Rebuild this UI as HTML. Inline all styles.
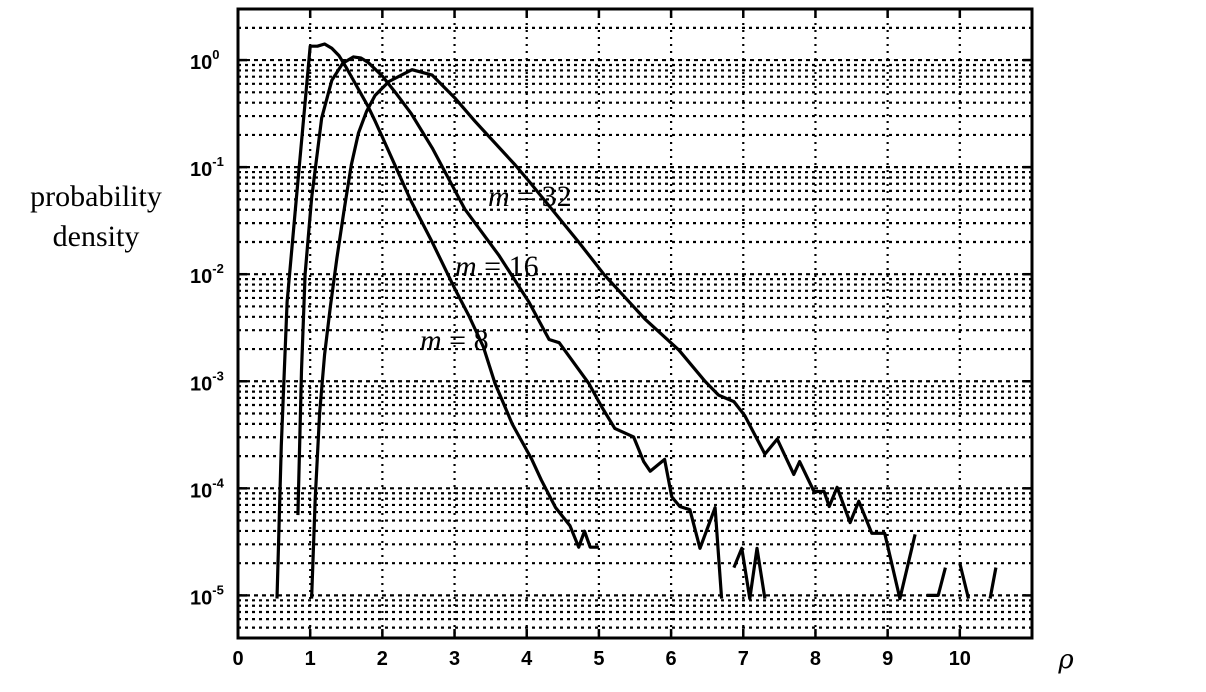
<!DOCTYPE html>
<html><head><meta charset="utf-8"><style>
html,body{margin:0;padding:0;background:#fff;}
svg{display:block;}
.tick{font-family:"Liberation Sans",sans-serif;font-weight:bold;font-size:20px;fill:#000;}
.lab{font-family:"Liberation Serif",serif;font-size:30px;fill:#000;}
</style></head><body>
<svg id="chart" width="1206" height="692" viewBox="0 0 1206 692" xmlns="http://www.w3.org/2000/svg">
<g id="grid"></g>
<g id="curves"></g>
<g id="axes"></g>
<text class="lab" x="96" y="206" text-anchor="middle">probability</text>
<text class="lab" x="96" y="246" text-anchor="middle">density</text>
<text x="1066" y="668" text-anchor="middle" style="font-family:'DejaVu Serif',serif;font-style:italic;font-size:26px">ρ</text>
<g style="font-family:'Liberation Serif',serif;font-style:italic;font-size:30px">
<text x="488" y="206">m <tspan style="font-style:normal">= 32</tspan></text>
<text x="455" y="276">m <tspan style="font-style:normal">= 16</tspan></text>
<text x="420" y="350">m <tspan style="font-style:normal">= 8</tspan></text>
</g>
</svg>
<script>
// data (x = rho, y = log10 probability density; null breaks the line)
const xTicks = [0,1,2,3,4,5,6,7,8,9,10];
const yDecades = [0,-1,-2,-3,-4,-5];
const m8X = [0.54,0.6,0.68,0.8,0.9,1.0,1.1,1.2,1.3,1.4,1.5,1.6,1.7,1.8,1.9,2.0,2.2,2.4,2.69,3.0,3.2,3.4,3.56,3.8,4.07,4.2,4.4,4.6,4.72,4.8,4.88,5.0];
const m8Log = [-5.03,-3.6,-2.26,-1.36,-0.61,0.13,0.13,0.15,0.11,0.04,-0.07,-0.19,-0.31,-0.43,-0.57,-0.72,-1.02,-1.32,-1.70,-2.13,-2.39,-2.68,-3.02,-3.4,-3.73,-3.92,-4.18,-4.35,-4.55,-4.4,-4.55,-4.55];
const m16X = [0.83,0.88,0.93,1.02,1.16,1.3,1.45,1.6,1.7,1.8,2.0,2.2,2.4,2.69,3.14,3.61,4.03,4.31,4.45,4.86,5.04,5.22,5.48,5.62,5.71,5.91,6.01,6.12,6.26,6.40,6.61,6.70,null,6.87,6.98,7.09,7.19,7.30];
const m16Log = [-4.25,-2.9,-2.0,-1.29,-0.54,-0.19,-0.03,0.03,0.02,-0.02,-0.15,-0.32,-0.5,-0.82,-1.39,-1.82,-2.26,-2.61,-2.64,-3.02,-3.24,-3.44,-3.52,-3.75,-3.84,-3.73,-4.08,-4.17,-4.2,-4.56,-4.18,-5.03,null,-4.74,-4.56,-5.03,-4.56,-5.03];
const m32X = [1.02,1.07,1.13,1.2,1.28,1.37,1.47,1.57,1.67,1.78,1.9,2.09,2.41,2.69,3.0,3.28,3.84,4.03,4.72,5.08,5.64,6.11,6.47,6.66,6.87,7.02,7.30,7.47,7.70,7.78,7.98,8.12,8.19,8.30,8.48,8.60,8.78,8.96,9.17,9.38,null,9.54,9.7,9.8,null,10.0,10.12,null,10.42,10.5];
const m32Log = [-5.03,-4.1,-3.3,-2.75,-2.3,-1.85,-1.4,-0.98,-0.68,-0.48,-0.33,-0.2,-0.09,-0.14,-0.35,-0.57,-0.98,-1.13,-1.70,-2.01,-2.42,-2.71,-3.0,-3.13,-3.19,-3.32,-3.68,-3.54,-3.87,-3.75,-4.03,-4.03,-4.17,-3.99,-4.32,-4.12,-4.42,-4.42,-5.03,-4.43,null,-5.0,-5.0,-4.74,null,-4.70,-5.03,null,-5.03,-4.74];

const NS='http://www.w3.org/2000/svg';
const L=238,R=1032,T=9,B=638;
const xMin=0,xMax=11,yMin=Math.log10(4e-6),yMax=Math.log10(3);
const sx=v=>L+(v-xMin)/(xMax-xMin)*(R-L);
const sy=v=>B-(v-yMin)/(yMax-yMin)*(B-T);
function mk(tag,attrs,parent){const e=document.createElementNS(NS,tag);for(const k in attrs)e.setAttribute(k,attrs[k]);parent.appendChild(e);return e;}
const grid=document.getElementById('grid'),curves=document.getElementById('curves'),axes=document.getElementById('axes');
xTicks.forEach(t=>{if(t===0)return;
  const l=mk('line',{x1:sx(t),x2:sx(t),y1:T,y2:B,stroke:'#000','stroke-width':2.2,'stroke-dasharray':'2 5'},grid);
  
  
});
for(let d=-6;d<=0;d++){for(let k=1;k<=9;k++){const v=d+Math.log10(k);if(v<yMin-1e-9||v>yMax)continue;
  const l=mk('line',{x1:L,x2:R,y1:sy(v),y2:sy(v),stroke:'#000','stroke-width':2.2,'stroke-dasharray':k===1?'4 4':'3 4'},grid);
  
  
}}
function drawSeries(xs,ys,name){let d='',pen=false;
  for(let i=0;i<xs.length;i++){if(xs[i]===null||ys[i]===null){pen=false;continue;}
    d+=(pen?'L':'M')+sx(xs[i]).toFixed(1)+','+sy(ys[i]).toFixed(1);pen=true;}
  const p=mk('path',{d:d,fill:'none',stroke:'#000','stroke-width':3.2,'stroke-linejoin':'round'},curves);
  
  
}
drawSeries(m8X,m8Log,'series-m8');
drawSeries(m16X,m16Log,'series-m16');
drawSeries(m32X,m32Log,'series-m32');
const box=mk('rect',{x:L,y:T,width:R-L,height:B-T,fill:'none',stroke:'#000','stroke-width':3},axes);


xTicks.forEach(t=>{
  mk('line',{x1:sx(t),x2:sx(t),y1:B,y2:B-9,stroke:'#000','stroke-width':2.5},axes);
  mk('line',{x1:sx(t),x2:sx(t),y1:T,y2:T+9,stroke:'#000','stroke-width':2.5},axes);
  const tx=mk('text',{x:sx(t),y:665,'text-anchor':'middle',class:'tick'},axes);
  tx.textContent=String(t);
  
  
});
yDecades.forEach(d=>{
  mk('line',{x1:L,x2:L+9,y1:sy(d),y2:sy(d),stroke:'#000','stroke-width':2.5},axes);
  mk('line',{x1:R,x2:R-9,y1:sy(d),y2:sy(d),stroke:'#000','stroke-width':2.5},axes);
  const tx=mk('text',{x:190,y:sy(d)+9,class:'tick'},axes);
  tx.textContent='10';
  const sp=mk('tspan',{dy:-10,'font-size':13},tx);
  sp.textContent=String(d);
  
  
});
</script>
</body></html>
